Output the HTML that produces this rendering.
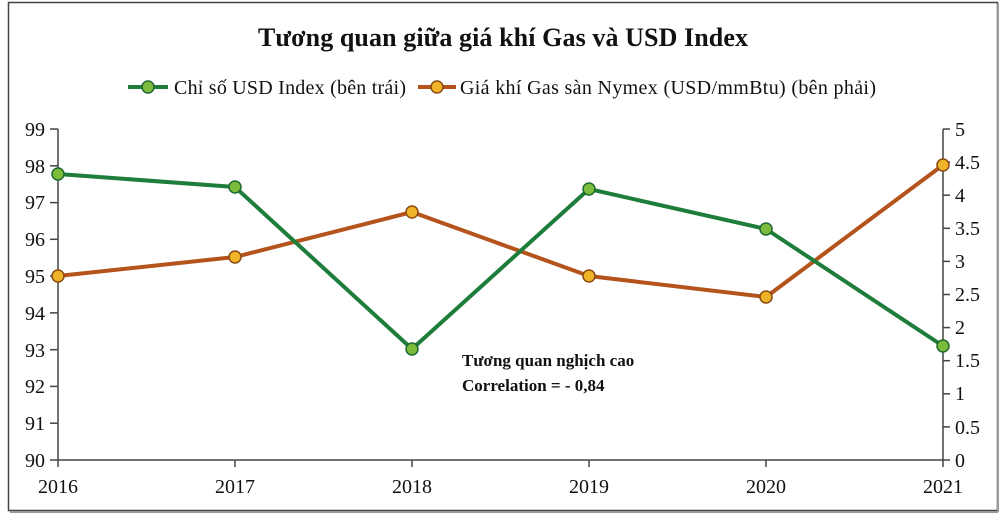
<!DOCTYPE html>
<html><head><meta charset="utf-8"><style>
html,body{margin:0;padding:0;background:#fff;}
svg text{font-family:"Liberation Serif",serif;fill:#111;}
</style></head><body>
<svg width="1000" height="516" viewBox="0 0 1000 516" xmlns="http://www.w3.org/2000/svg">
<rect x="8.5" y="2.5" width="989" height="508" fill="#fff" stroke="#444" stroke-width="1.5"/>
<line x1="998" y1="4" x2="998" y2="512" stroke="#999" stroke-width="2"/>
<line x1="10" y1="512" x2="998" y2="512" stroke="#999" stroke-width="2"/>
<text x="503" y="46" font-size="26" font-weight="bold" text-anchor="middle" textLength="490">Tương quan giữa giá khí Gas và USD Index</text>
<line x1="128" y1="87" x2="168" y2="87" stroke="#1e7d3a" stroke-width="4"/>
<circle cx="148" cy="87" r="6" fill="#7dbb3c" stroke="#1e6a30" stroke-width="1.5"/>
<text x="174" y="94" font-size="20" textLength="232">Chỉ số USD Index (bên trái)</text>
<line x1="418" y1="87" x2="456" y2="87" stroke="#b5531c" stroke-width="4"/>
<circle cx="437" cy="87" r="6" fill="#f0b429" stroke="#8a4a10" stroke-width="1.5"/>
<text x="460" y="94" font-size="20" textLength="416">Giá khí Gas sàn Nymex (USD/mmBtu) (bên phải)</text>
<g stroke="#444" stroke-width="1.5" fill="none">
<line x1="58" y1="129" x2="58" y2="460"/>
<line x1="943" y1="129" x2="943" y2="467"/>
<line x1="58" y1="460" x2="943" y2="460"/>
</g>
<g stroke="#444" stroke-width="1.5">
<line x1="50" x2="58" y1="129" y2="129"/><line x1="50" x2="58" y1="165.8" y2="165.8"/><line x1="50" x2="58" y1="202.6" y2="202.6"/><line x1="50" x2="58" y1="239.3" y2="239.3"/><line x1="50" x2="58" y1="276.1" y2="276.1"/><line x1="50" x2="58" y1="312.9" y2="312.9"/><line x1="50" x2="58" y1="349.7" y2="349.7"/><line x1="50" x2="58" y1="386.4" y2="386.4"/><line x1="50" x2="58" y1="423.2" y2="423.2"/><line x1="50" x2="58" y1="460" y2="460"/>
<line x1="943" x2="950" y1="129" y2="129"/><line x1="943" x2="950" y1="162.1" y2="162.1"/><line x1="943" x2="950" y1="195.2" y2="195.2"/><line x1="943" x2="950" y1="228.3" y2="228.3"/><line x1="943" x2="950" y1="261.4" y2="261.4"/><line x1="943" x2="950" y1="294.5" y2="294.5"/><line x1="943" x2="950" y1="327.6" y2="327.6"/><line x1="943" x2="950" y1="360.7" y2="360.7"/><line x1="943" x2="950" y1="393.8" y2="393.8"/><line x1="943" x2="950" y1="426.9" y2="426.9"/><line x1="943" x2="950" y1="460" y2="460"/>
<line x1="58" x2="58" y1="460" y2="467"/><line x1="235" x2="235" y1="460" y2="467"/><line x1="412" x2="412" y1="460" y2="467"/><line x1="589" x2="589" y1="460" y2="467"/><line x1="766" x2="766" y1="460" y2="467"/>
</g>
<g font-size="20" text-anchor="end">
<text x="45" y="136">99</text><text x="45" y="173">98</text><text x="45" y="209">97</text><text x="45" y="246">96</text><text x="45" y="283">95</text><text x="45" y="320">94</text><text x="45" y="357">93</text><text x="45" y="393">92</text><text x="45" y="430">91</text><text x="45" y="467">90</text>
</g>
<g font-size="20" text-anchor="start">
<text x="955" y="136">5</text><text x="955" y="169">4.5</text><text x="955" y="202">4</text><text x="955" y="235">3.5</text><text x="955" y="268">3</text><text x="955" y="301">2.5</text><text x="955" y="334">2</text><text x="955" y="367">1.5</text><text x="955" y="400">1</text><text x="955" y="434">0.5</text><text x="955" y="467">0</text>
</g>
<g font-size="20" text-anchor="middle">
<text x="58" y="493">2016</text><text x="235" y="493">2017</text><text x="412" y="493">2018</text><text x="589" y="493">2019</text><text x="766" y="493">2020</text><text x="943" y="493">2021</text>
</g>
<polyline points="58,276 235,257 412,212 589,276 766,297 943,165" fill="none" stroke="#b5531c" stroke-width="4" stroke-linejoin="round"/>
<polyline points="58,174 235,187 412,349 589,189 766,229 943,346" fill="none" stroke="#1e7d3a" stroke-width="4" stroke-linejoin="round"/>
<g fill="#f0b429" stroke="#8a4a10" stroke-width="1.5">
<circle cx="58" cy="276" r="6"/><circle cx="235" cy="257" r="6"/><circle cx="412" cy="212" r="6"/><circle cx="589" cy="276" r="6"/><circle cx="766" cy="297" r="6"/><circle cx="943" cy="165" r="6"/>
</g>
<g fill="#7dbb3c" stroke="#1e6a30" stroke-width="1.5">
<circle cx="58" cy="174" r="6"/><circle cx="235" cy="187" r="6"/><circle cx="412" cy="349" r="6"/><circle cx="589" cy="189" r="6"/><circle cx="766" cy="229" r="6"/><circle cx="943" cy="346" r="6"/>
</g>
<text x="462" y="366" font-size="17" font-weight="bold">Tương quan nghịch cao</text>
<text x="462" y="391" font-size="17" font-weight="bold">Correlation = - 0,84</text>
</svg>
</body></html>
